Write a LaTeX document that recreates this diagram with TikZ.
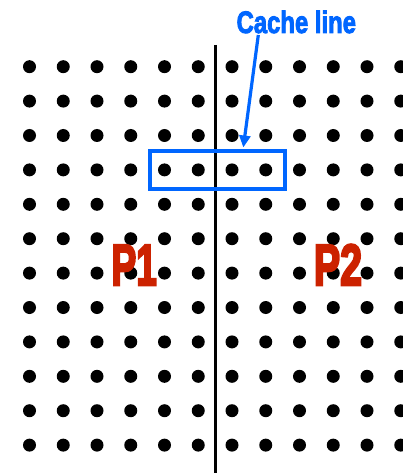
\documentclass[tikz,border=0pt]{standalone}
\usepackage{fontspec}
\newfontfamily\heavyfont[RawFeature={embolden=3}]{Liberation Sans Bold}
\newfontfamily\heavierfont[RawFeature={embolden=4.5}]{Liberation Sans Bold}
\usetikzlibrary{arrows.meta}
\definecolor{cblue}{RGB}{0,102,255}
\definecolor{pred}{RGB}{204,34,0}
\tikzset{
  dot/.style={circle, fill=black, minimum size=13pt, inner sep=0pt},
  cachebox/.style={draw=cblue, line width=4pt, minimum width=134.4pt, minimum height=38pt, inner sep=0pt},
  divider/.style={line width=2.5pt, black},
  pointer/.style={draw=cblue, line width=3.2pt, -{Triangle[length=12pt,width=11pt]}},
  lbl/.style={text=cblue, font=\heavyfont\fontsize{31}{31}\selectfont, inner sep=0pt, anchor=base},
  plabel/.style={text=pred, font=\heavierfont\fontsize{58}{58}\selectfont, inner sep=0pt, anchor=base}
}
\begin{document}
\begin{tikzpicture}[x=1pt,y=-1pt]
\clip (0,0) rectangle (403,473);
\fill[white] (0,0) rectangle (403,473);
\foreach \i in {0,...,11}{
  \foreach \j in {0,...,11}{
    \node[dot] (d-\i-\j) at ({29.5+33.75*\i},{66.7+34.4*\j}) {};
  }
}
\coordinate (vtop) at (215.3,45);
\coordinate (vbot) at (215.3,473);
\draw[divider] (vtop) -- (vbot);
\node[cachebox] (box) at (217.5,170) {};
\node[lbl] (cl) at (296.3,33) {\scalebox{0.77}[1]{Cache line}};
\coordinate (astart) at (258.3,35);
\coordinate (aend) at (243.3,147.5);
\draw[pointer] (astart) -- (aend);
\node[plabel] (p1) at (134.2,285) {\scalebox{0.64}[1]{P1}};
\node[plabel] (p2) at (338,285) {\scalebox{0.68}[1]{P2}};
\end{tikzpicture}
\end{document}
